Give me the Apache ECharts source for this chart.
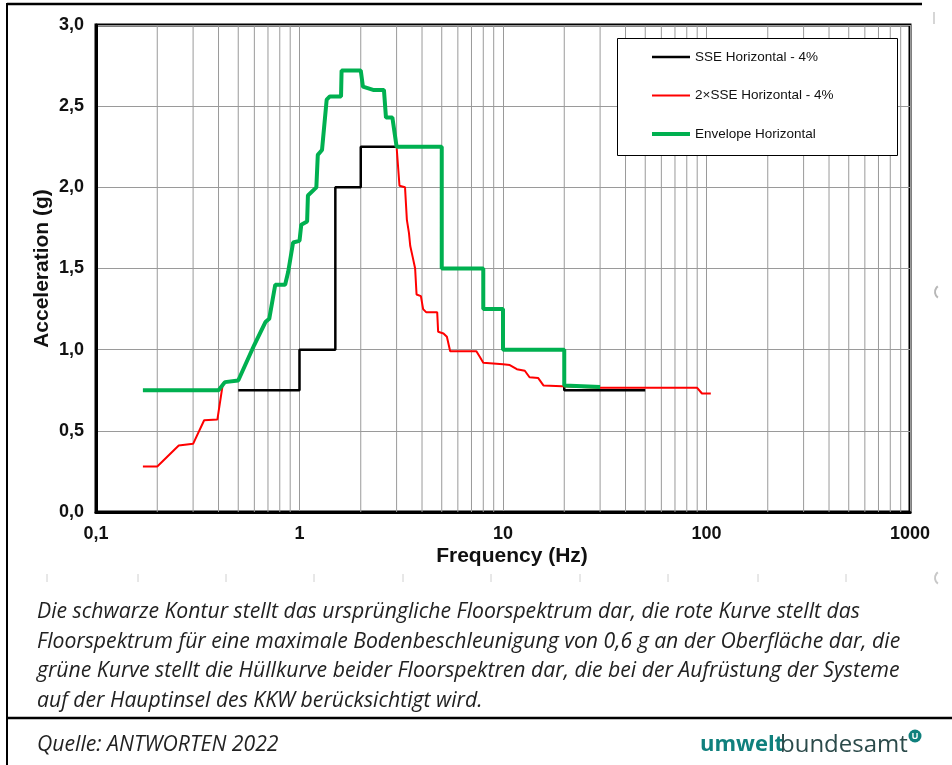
<!DOCTYPE html>
<html>
<head>
<meta charset="utf-8">
<script src="https://cdn.jsdelivr.net/npm/echarts@6/dist/echarts.min.js"></script>
<style>
  html, body { margin: 0; padding: 0; background: #fff; }
  #chart { width: 952px; height: 765px; }
</style>
</head>
<body>
<div id="chart"></div>
<script>
// Floor response spectra (horizontal, 4 % damping)
const seriesNames = ['SSE Horizontal - 4%', '2×SSE Horizontal - 4%', 'Envelope Horizontal'];

// Original floor spectrum (SSE)
const sseFreq = [0.5, 1.0, 1.0, 1.5, 1.5, 2.0, 2.0, 5.0, 5.0, 8.0, 8.0, 10.0, 10.0, 20.0, 20.0, 50];
const sseAcc  = [0.75, 0.75, 1.0, 1.0, 2.0, 2.0, 2.25, 2.25, 1.5, 1.5, 1.25, 1.25, 1.0, 1.0, 0.75, 0.75];

// Floor spectrum for 0.6 g peak ground acceleration (2×SSE)
const redFreq = [0.17, 0.2, 0.255, 0.3, 0.34, 0.395, 0.42, 0.43, 0.5, 0.6, 0.68, 0.71, 0.76, 0.85, 0.88, 0.93, 1.0, 1.02,
  1.09, 1.1, 1.21, 1.23, 1.29, 1.36, 1.41, 1.6, 1.61, 2.0, 2.05, 2.3, 2.6, 2.66, 2.86, 3.0, 3.1, 3.3, 3.37, 3.45, 3.5,
  3.6, 3.7, 3.76, 3.95, 4.05, 4.2, 4.75, 4.8, 5.1, 5.3, 5.5, 7.4, 7.7, 8.0, 10.0, 10.8, 11.7, 12.8, 13.5, 14.9, 15.8,
  19.5, 30, 90, 95, 105];
const redAcc = [0.28, 0.28, 0.41, 0.42, 0.565, 0.57, 0.79, 0.8, 0.81, 1.03, 1.17, 1.19, 1.4, 1.4, 1.48, 1.66, 1.67, 1.77,
  1.79, 1.95, 2.0, 2.2, 2.23, 2.54, 2.56, 2.56, 2.72, 2.72, 2.62, 2.6, 2.6, 2.43, 2.43, 2.25, 2.01, 2.0, 1.8, 1.72, 1.64,
  1.57, 1.5, 1.34, 1.33, 1.25, 1.23, 1.23, 1.11, 1.1, 1.08, 0.99, 0.99, 0.955, 0.92, 0.91, 0.905, 0.88, 0.87, 0.83, 0.825, 0.78,
  0.775, 0.765, 0.765, 0.73, 0.73];

// Envelope of both floor spectra
const envFreq = [0.17, 0.4, 0.43, 0.5, 0.6, 0.68, 0.71, 0.76, 0.85, 0.88, 0.93, 1.0, 1.02, 1.09, 1.1, 1.21, 1.23, 1.29,
  1.36, 1.41, 1.6, 1.61, 2.0, 2.05, 2.3, 2.6, 2.66, 2.86, 3.0, 5.0, 5.0, 8.0, 8.0, 10.0, 10.0, 20.0, 20.0, 30];
const envAcc = [0.75, 0.75, 0.8, 0.81, 1.03, 1.17, 1.19, 1.4, 1.4, 1.48, 1.66, 1.67, 1.77, 1.79, 1.95, 2.0, 2.2, 2.23,
  2.54, 2.56, 2.56, 2.72, 2.72, 2.62, 2.6, 2.6, 2.43, 2.43, 2.25, 2.25, 1.5, 1.5, 1.25, 1.25, 1.0, 1.0, 0.78, 0.77];

// Log-axis minor grid positions (2..9 in each decade)
const minorFreqs = [0.2, 0.3, 0.4, 0.5, 0.6, 0.7, 0.8, 0.9, 2, 3, 4, 5, 6, 7, 8, 9,
  20, 30, 40, 50, 60, 70, 80, 90, 200, 300, 400, 500, 600, 700, 800, 900];

const captionLines = [
  'Die schwarze Kontur stellt das ursprüngliche Floorspektrum dar, die rote Kurve stellt das',
  'Floorspektrum für eine maximale Bodenbeschleunigung von 0,6 g an der Oberfläche dar, die',
  'grüne Kurve stellt die Hüllkurve beider Floorspektren dar, die bei der Aufrüstung der Systeme',
  'auf der Hauptinsel des KKW berücksichtigt wird.'
];
const sourceText = 'Quelle: ANTWORTEN 2022';

const seriesColors = ['#000000', '#ff0000', '#00b050'];
const seriesWidths = [2.5, 2, 4];

const pairs = (xs, ys) => xs.map((x, i) => [x, ys[i]]);
const comma = v => String(+v.toFixed(2)).replace('.', ',');

const chart = echarts.init(document.getElementById('chart'), null, { renderer: 'canvas' });

const graphics = [
  // page frame
  { type: 'line', shape: { x1: 7, y1: 4, x2: 922, y2: 4 }, style: { stroke: '#000', lineWidth: 2.5 }, z: 10 },
  { type: 'line', shape: { x1: 7, y1: 3, x2: 7, y2: 765 }, style: { stroke: '#000', lineWidth: 2 }, z: 10 },
  { type: 'line', shape: { x1: 7, y1: 718, x2: 952, y2: 718 }, style: { stroke: '#000', lineWidth: 2.5 }, z: 10 },
  // legend frame
  { type: 'rect', shape: { x: 617.5, y: 38.5, width: 280, height: 117 }, style: { fill: '#fff', stroke: '#000', lineWidth: 1 }, z: 3 },
  // caption
  ...captionLines.map((t, i) => ({
    type: 'text', x: 37, y: 612 + i * 29.5,
    style: { text: t, font: 'italic 21.2px "Open Sans"', fill: '#222', textVerticalAlign: 'middle' }, z: 10
  })),
  { type: 'text', x: 37, y: 745, style: { text: sourceText, font: 'italic 21.2px "Open Sans"', fill: '#222', textVerticalAlign: 'middle' }, z: 10 },
  // publisher mark
  { type: 'text', x: 700, y: 745, style: { text: 'umwelt', font: 'bold 22px "Open Sans"', fill: '#10807d', textVerticalAlign: 'middle' }, z: 10 },
  { type: 'text', x: 780, y: 745, style: { text: 'bundesamt', font: '24px "Open Sans"', fill: '#2b4a4a', textVerticalAlign: 'middle' }, z: 10 },
  { type: 'circle', shape: { cx: 915, cy: 736, r: 6.5 }, style: { fill: '#10807d' }, z: 10 },
  { type: 'text', x: 915, y: 736.5, style: { text: 'U', font: 'bold 9px "Liberation Sans"', fill: '#fff', textAlign: 'center', textVerticalAlign: 'middle' }, z: 11 }
];
// faint marks along the lower edge
[47, 138, 226, 314, 403, 491, 580, 668, 758, 846].forEach(x => {
  graphics.push({ type: 'line', shape: { x1: x, y1: 574, x2: x, y2: 582 }, style: { stroke: '#d0d0d0', lineWidth: 1 }, z: 10 });
});
graphics.push({ type: 'line', shape: { x1: 934, y1: 12, x2: 934, y2: 24 }, style: { stroke: '#c8c8c8', lineWidth: 1.5 }, z: 10 });
graphics.push({ type: 'arc', shape: { cx: 942, cy: 292, r: 7, startAngle: Math.PI * 0.7, endAngle: Math.PI * 1.3 }, style: { stroke: '#b8b8b8', lineWidth: 2, fill: null }, z: 10 });
graphics.push({ type: 'arc', shape: { cx: 942, cy: 578, r: 7, startAngle: Math.PI * 0.7, endAngle: Math.PI * 1.3 }, style: { stroke: '#c8c8c8', lineWidth: 2, fill: null }, z: 10 });

chart.setOption({
  animation: false,
  backgroundColor: '#fff',
  textStyle: { fontFamily: '"Liberation Sans", Arial, sans-serif' },
  grid: { left: 96, right: 42, top: 25, bottom: 253, show: true, borderColor: '#000', borderWidth: 3, backgroundColor: 'transparent' },
  legend: {
    data: seriesNames.map((n, i) => ({ name: n, lineStyle: { width: seriesWidths[i], color: seriesColors[i] } })),
    orient: 'vertical',
    left: 650, top: 50,
    itemWidth: 38, itemHeight: 14, itemGap: 24.5,
    padding: 0,
    itemStyle: { opacity: 0 },
    textStyle: { fontSize: 13.5, color: '#111', fontFamily: '"Liberation Sans", Arial, sans-serif' },
    z: 5
  },
  graphic: { elements: graphics },
  xAxis: {
    type: 'log', logBase: 10, min: 0.1, max: 1000,
    name: 'Frequency (Hz)', nameLocation: 'middle', nameGap: 34, nameMoveOverlap: false,
    nameTextStyle: { fontSize: 21, fontWeight: 'bold', color: '#111', padding: [0, 0, 0, 18] },
    axisLine: { show: true, lineStyle: { color: '#000', width: 3 } },
    axisTick: { show: false },
    axisLabel: { fontSize: 18, fontWeight: 'bold', color: '#111', margin: 13, formatter: v => comma(v) },
    splitLine: { show: true, lineStyle: { color: '#9a9a9a', width: 1 } }
  },
  yAxis: {
    type: 'value', min: 0, max: 3, interval: 0.5,
    name: 'Acceleration (g)', nameLocation: 'middle', nameGap: 43, nameMoveOverlap: false,
    nameTextStyle: { fontSize: 21, fontWeight: 'bold', color: '#111' },
    axisLine: { show: true, lineStyle: { color: '#000', width: 3 } },
    axisTick: { show: false },
    axisLabel: { fontSize: 18, fontWeight: 'bold', color: '#111', margin: 12, formatter: v => v.toFixed(1).replace('.', ',') },
    splitLine: { show: true, lineStyle: { color: '#9a9a9a', width: 1 } }
  },
  series: [
    {
      type: 'custom', name: 'minor-grid', silent: true, z: 1,
      data: minorFreqs.map(f => [f, 0]),
      encode: { x: 0, y: 1 },
      renderItem: (params, api) => {
        const f = api.value(0);
        const a = api.coord([f, 0]);
        const b = api.coord([f, 3]);
        return { type: 'line', shape: { x1: a[0], y1: a[1], x2: b[0], y2: b[1] }, style: { stroke: '#9a9a9a', lineWidth: 1 } };
      }
    },
    ...seriesNames.map((n, i) => ({
      type: 'line', name: n,
      data: [pairs(sseFreq, sseAcc), pairs(redFreq, redAcc), pairs(envFreq, envAcc)][i],
      symbol: 'none',
      lineStyle: { color: seriesColors[i], width: seriesWidths[i] },
      itemStyle: { color: seriesColors[i] },
      z: 2
    }))
  ]
});
</script>
</body>
</html>
